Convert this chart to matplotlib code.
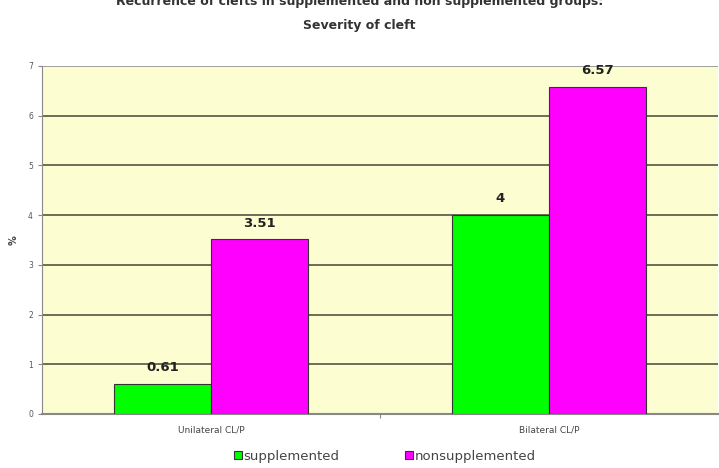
import numpy as np
import matplotlib.pyplot as plt

categories = ["Unilateral CL/P", "Bilateral CL/P"]
supplemented = [0.61, 4]
nonsupplemented = [3.51, 6.57]
series_names = ["supplemented", "nonsupplemented"]

fig = plt.figure(figsize=(7.19, 4.68), dpi=100)
ax = fig.add_axes([0.0584, 0.1154, 0.94, 0.7436])
ax.set_facecolor("#fdfdd2")

x = np.arange(len(categories))
w = 0.288
b1 = ax.bar(x - w / 2, supplemented, w, color="#00ff00", edgecolor="#333333", linewidth=0.8,
            label=series_names[0], zorder=3)
b2 = ax.bar(x + w / 2, nonsupplemented, w, color="#ff00ff", edgecolor="#333333", linewidth=0.8,
            label=series_names[1], zorder=3)

for bars, vals in [(b1, supplemented), (b2, nonsupplemented)]:
    for r, v in zip(bars, vals):
        ax.text(r.get_x() + r.get_width() / 2, v + 0.2, "{:g}".format(v), ha="center", va="bottom",
                fontsize=9.5, fontweight="bold", color="#222222", zorder=4)

ax.set_xlim(-0.5, 1.5)
ax.set_ylim(0, 7)
ax.set_yticks(range(0, 8))
ax.yaxis.grid(True, color="#555544", linewidth=1.2, zorder=0)
ax.set_axisbelow(True)
ax.set_xticks([0.5])
ax.set_xticklabels([""])
ax.tick_params(axis="x", length=3, color="#888888")
ax.tick_params(axis="y", labelsize=5.5, length=3, color="#888888", labelcolor="#555555")
for i, c in enumerate(categories):
    ax.text(x[i], -0.33, c, ha="center", va="center", fontsize=6.5, color="#444444")
ax.set_ylabel("%", fontsize=7, color="#444444", labelpad=7, fontweight="bold")

for s in ["top", "right"]:
    ax.spines[s].set_visible(False)
ax.spines["left"].set_color("#888888")
ax.spines["bottom"].set_color("#888888")
ax.spines["bottom"].set_linewidth(1.5)
ax.axhline(7, color="#aaaaaa", linewidth=1.2, zorder=1)

fig.text(0.5, 0.996, "Recurrence of clefts in supplemented and non supplemented groups:",
         ha="center", va="center", fontsize=9, fontweight="bold", color="#333333")
fig.text(0.5, 0.946, "Severity of cleft", ha="center", va="center", fontsize=9,
         fontweight="bold", color="#333333")

leg = fig.legend(handles=[b1, b2], loc="center", bbox_to_anchor=(0.535, 0.025), ncol=2,
                 frameon=False, fontsize=9.5, handlelength=0.6, handleheight=0.6,
                 handletextpad=0.1, columnspacing=5.0, borderpad=0)
for t in leg.get_texts():
    t.set_color("#444444")

fig.savefig("out.png", dpi=100)
